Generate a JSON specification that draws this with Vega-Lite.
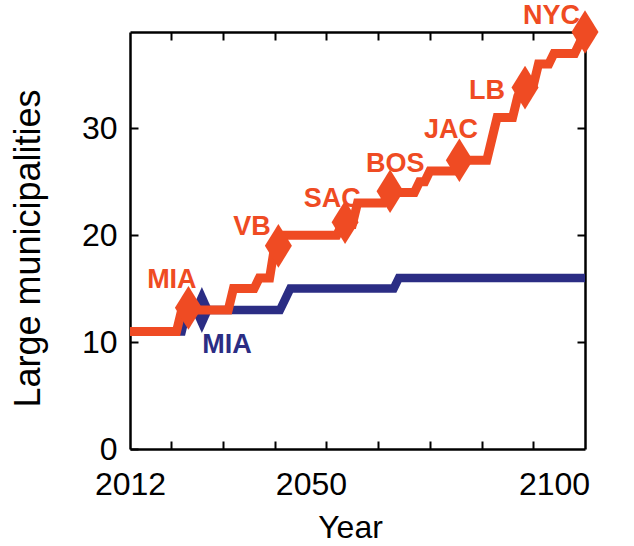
{
  "$schema": "https://vega.github.io/schema/vega-lite/v6.json",
  "width": 455,
  "height": 417,
  "autosize": "none",
  "padding": {"left": 130, "top": 32, "right": 49, "bottom": 97},
  "background": "white",
  "config": {"view": {"stroke": null}, "font": "Liberation Sans"},
  "datasets": {
    "high": [
      {"year": 2012, "value": 11}, {"year": 2013, "value": 11}, {"year": 2014, "value": 11}, {"year": 2015, "value": 11},
      {"year": 2016, "value": 11}, {"year": 2017, "value": 11}, {"year": 2018, "value": 11}, {"year": 2019, "value": 11},
      {"year": 2020, "value": 11}, {"year": 2021, "value": 11}, {"year": 2022, "value": 13}, {"year": 2023, "value": 13},
      {"year": 2024, "value": 13}, {"year": 2025, "value": 13}, {"year": 2026, "value": 13}, {"year": 2027, "value": 13},
      {"year": 2028, "value": 13}, {"year": 2029, "value": 13}, {"year": 2030, "value": 13}, {"year": 2031, "value": 13},
      {"year": 2032, "value": 15}, {"year": 2033, "value": 15}, {"year": 2034, "value": 15}, {"year": 2035, "value": 15},
      {"year": 2036, "value": 15}, {"year": 2037, "value": 16}, {"year": 2038, "value": 16}, {"year": 2039, "value": 16},
      {"year": 2040, "value": 19}, {"year": 2041, "value": 19}, {"year": 2042, "value": 20}, {"year": 2043, "value": 20},
      {"year": 2044, "value": 20}, {"year": 2045, "value": 20}, {"year": 2046, "value": 20}, {"year": 2047, "value": 20},
      {"year": 2048, "value": 20}, {"year": 2049, "value": 20}, {"year": 2050, "value": 20}, {"year": 2051, "value": 20},
      {"year": 2052, "value": 20}, {"year": 2053, "value": 21}, {"year": 2054, "value": 21}, {"year": 2055, "value": 21},
      {"year": 2056, "value": 23}, {"year": 2057, "value": 23}, {"year": 2058, "value": 23}, {"year": 2059, "value": 23},
      {"year": 2060, "value": 23}, {"year": 2061, "value": 23}, {"year": 2062, "value": 24}, {"year": 2063, "value": 24},
      {"year": 2064, "value": 24}, {"year": 2065, "value": 24}, {"year": 2066, "value": 24}, {"year": 2067, "value": 24},
      {"year": 2068, "value": 25}, {"year": 2069, "value": 25}, {"year": 2070, "value": 26}, {"year": 2071, "value": 26},
      {"year": 2072, "value": 26}, {"year": 2073, "value": 26}, {"year": 2074, "value": 26}, {"year": 2075, "value": 26},
      {"year": 2076, "value": 27}, {"year": 2077, "value": 27}, {"year": 2078, "value": 27}, {"year": 2079, "value": 27},
      {"year": 2080, "value": 27}, {"year": 2081, "value": 27}, {"year": 2082, "value": 29}, {"year": 2083, "value": 31},
      {"year": 2084, "value": 31}, {"year": 2085, "value": 31}, {"year": 2086, "value": 31}, {"year": 2087, "value": 33},
      {"year": 2088, "value": 34}, {"year": 2089, "value": 34}, {"year": 2090, "value": 34}, {"year": 2091, "value": 36},
      {"year": 2092, "value": 36}, {"year": 2093, "value": 36}, {"year": 2094, "value": 37}, {"year": 2095, "value": 37},
      {"year": 2096, "value": 37}, {"year": 2097, "value": 37}, {"year": 2098, "value": 37}, {"year": 2099, "value": 38},
      {"year": 2100, "value": 39}
    ],
    "low": [
      {"year": 2012, "value": 11}, {"year": 2022, "value": 11}, {"year": 2023, "value": 13}, {"year": 2041, "value": 13},
      {"year": 2042, "value": 14}, {"year": 2043, "value": 15}, {"year": 2063, "value": 15}, {"year": 2064, "value": 16},
      {"year": 2100, "value": 16}
    ],
    "markers": [
      {"year": 2025.9, "value": 13, "series": "low"},
      {"year": 2023.3, "value": 13.2, "series": "high"},
      {"year": 2040.7, "value": 19, "series": "high"},
      {"year": 2053.6, "value": 21.2, "series": "high"},
      {"year": 2062.3, "value": 24.1, "series": "high"},
      {"year": 2075.7, "value": 27, "series": "high"},
      {"year": 2088.4, "value": 33.8, "series": "high"},
      {"year": 2100, "value": 39, "series": "high"}
    ],
    "labels": [
      {"year": 2020.1, "value": 15.1, "label": "MIA", "series": "high"},
      {"year": 2035.6, "value": 20.05, "label": "VB", "series": "high"},
      {"year": 2051.1, "value": 22.6, "label": "SAC", "series": "high"},
      {"year": 2063.3, "value": 25.95, "label": "BOS", "series": "high"},
      {"year": 2074.1, "value": 29.05, "label": "JAC", "series": "high"},
      {"year": 2081.05, "value": 32.7, "label": "LB", "series": "high"},
      {"year": 2093.5, "value": 39.75, "label": "NYC", "series": "high"},
      {"year": 2030.75, "value": 9.0, "label": "MIA", "series": "low"}
    ]
  },
  "resolve": {"axis": {"x": "independent", "y": "independent"}},
  "layer": [
    {
      "data": {"name": "low"},
      "mark": {"type": "line", "color": "#2B2D84", "strokeWidth": 8.5, "strokeJoin": "miter", "strokeCap": "butt"},
      "encoding": {
        "x": {
          "field": "year", "type": "quantitative",
          "scale": {"domain": [2012, 2100], "nice": false, "zero": false},
          "axis": {
            "orient": "bottom",
            "values": [2012, 2020, 2030, 2040, 2047, 2050, 2060, 2070, 2080, 2090, 2094, 2100],
            "labelExpr": "datum.value == 2012 ? '2012' : datum.value == 2047 ? '2050' : datum.value == 2094 ? '2100' : ''",
            "tickSize": -8, "tickWidth": 2, "tickColor": "black",
            "tickOpacity": {"condition": {"test": "datum.value == 2012 || datum.value == 2047 || datum.value == 2094 || datum.value == 2100", "value": 0}, "value": 1},
            "domainColor": "black", "domainWidth": 2.5,
            "labelFont": "Liberation Sans", "labelFontSize": 32, "labelColor": "black", "labelPadding": 28,
            "labelOverlap": false, "labelBound": false, "labelFlush": false, "grid": false,
            "title": "Year", "titleFont": "Liberation Sans", "titleFontSize": 32, "titleFontWeight": "normal", "titleColor": "black",
            "titleX": 220, "titleY": 88, "titleBaseline": "alphabetic", "titleAlign": "center"
          }
        },
        "y": {
          "field": "value", "type": "quantitative",
          "scale": {"domain": [0, 39], "nice": false},
          "axis": {
            "orient": "left",
            "values": [0, 10, 20, 30],
            "tickSize": -8, "tickWidth": 2, "tickColor": "black",
            "domainColor": "black", "domainWidth": 2.5,
            "labelFont": "Liberation Sans", "labelFontSize": 32, "labelColor": "black", "labelPadding": 21,
            "labelOverlap": false, "labelBound": false, "labelFlush": false, "grid": false,
            "title": "Large municipalities", "titleFont": "Liberation Sans", "titleFontSize": 36, "titleFontWeight": "normal", "titleColor": "black",
            "titleX": -91, "titleY": 216, "titleAngle": -90, "titleBaseline": "alphabetic", "titleAlign": "center"
          }
        }
      }
    },
    {
      "data": {"name": "markers"},
      "transform": [{"filter": "datum.series == 'low'"}],
      "mark": {"type": "point", "shape": "M0,-1L0.45,0L0,1L-0.45,0Z", "filled": true, "size": 2100, "opacity": 1, "color": "#2B2D84"},
      "encoding": {
        "x": {"field": "year", "type": "quantitative", "axis": null},
        "y": {"field": "value", "type": "quantitative", "axis": null}
      }
    },
    {
      "data": {"name": "high"},
      "mark": {"type": "line", "color": "#EF4B23", "strokeWidth": 9, "strokeJoin": "miter", "strokeCap": "butt"},
      "encoding": {
        "x": {
          "field": "year", "type": "quantitative",
          "axis": {
            "orient": "top", "values": [2020, 2030, 2040, 2050, 2060, 2070, 2080, 2090],
            "tickSize": -8, "tickWidth": 2, "tickColor": "black",
            "domainColor": "black", "domainWidth": 2.5, "labels": false, "title": null, "grid": false
          }
        },
        "y": {
          "field": "value", "type": "quantitative",
          "axis": {
            "orient": "right", "values": [10, 20, 30],
            "tickSize": -8, "tickWidth": 2, "tickColor": "black",
            "domainColor": "black", "domainWidth": 2.5, "labels": false, "title": null, "grid": false
          }
        }
      }
    },
    {
      "data": {"name": "markers"},
      "transform": [{"filter": "datum.series == 'high'"}],
      "mark": {"type": "point", "shape": "M0,-1L0.62,0L0,1L-0.62,0Z", "filled": true, "size": 1900, "opacity": 1, "color": "#EF4B23"},
      "encoding": {
        "x": {"field": "year", "type": "quantitative", "axis": null},
        "y": {"field": "value", "type": "quantitative", "axis": null}
      }
    },
    {
      "data": {"name": "labels"},
      "mark": {"type": "text", "font": "Liberation Sans", "fontWeight": "bold", "fontSize": 27, "baseline": "alphabetic", "align": "center"},
      "encoding": {
        "x": {"field": "year", "type": "quantitative", "axis": null},
        "y": {"field": "value", "type": "quantitative", "axis": null},
        "text": {"field": "label"},
        "color": {"field": "series", "type": "nominal", "scale": {"domain": ["high", "low"], "range": ["#EF4B23", "#2B2D84"]}, "legend": null}
      }
    }
  ]
}
